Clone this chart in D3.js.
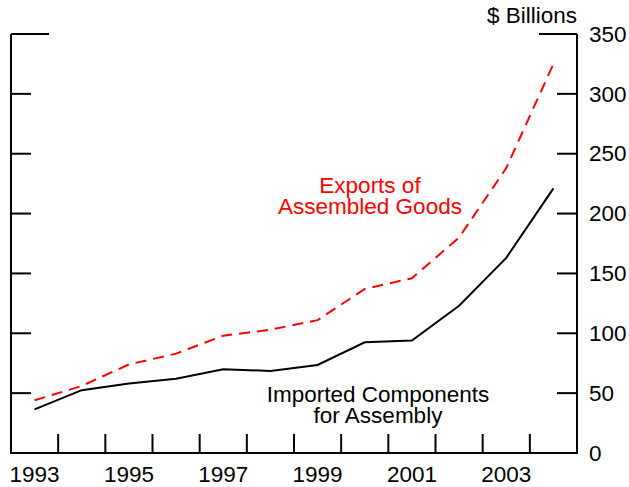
<!DOCTYPE html>
<html>
<head>
<meta charset="utf-8">
<script src="https://cdn.jsdelivr.net/npm/d3@7"></script>
<style>
  body { margin: 0; background: #fff; }
  text { font-family: "Liberation Sans", Arial, sans-serif; }
</style>
</head>
<body>
<div id="chart"></div>
<script>
// annual values, $ billions
var years = [1993, 1994, 1995, 1996, 1997, 1998, 1999, 2000, 2001, 2002, 2003, 2004];
var exportsAssembled = [44, 56, 74, 83, 98, 103, 111, 137, 146, 180, 238, 325];
var importedComponents = [36.5, 52.5, 58, 62, 70, 68.5, 73.5, 92.5, 94, 123, 163, 221];
var yTicks = [0, 50, 100, 150, 200, 250, 300, 350];
var yearLabels = [1993, 1995, 1997, 1999, 2001, 2003];
var yearTicks = [1994, 1995, 1996, 1997, 1998, 1999, 2000, 2001, 2002, 2003, 2004];

var width = 629, height = 487;
var margin = {top: 34, right: 52, bottom: 34, left: 11};
var w = width - margin.left - margin.right,
    h = height - margin.top - margin.bottom;
var fontSize = "22.5px";

// x runs over whole years, points sit mid-year
var x = d3.scaleLinear().domain([1993, 2005]).range([0, w]);
var y = d3.scaleLinear().domain([0, 350]).range([h, 0]);

var svg = d3.select("#chart").append("svg")
    .attr("width", width)
    .attr("height", height)
  .append("g")
    .attr("transform", "translate(" + margin.left + "," + margin.top + ")");

// frame: left, right, bottom
svg.append("path")
  .attr("d", "M0,0V" + h + "H" + w + "V0")
  .attr("fill", "none")
  .attr("stroke", "#000")
  .attr("stroke-width", 2);

// y ticks on both sides, the top pair longer
yTicks.forEach(function(v) {
  var len = v === 350 ? 38 : 20;
  svg.append("line").attr("x1", 0).attr("x2", len)
    .attr("y1", y(v)).attr("y2", y(v))
    .attr("stroke", "#000").attr("stroke-width", 2);
  svg.append("line").attr("x1", w - len).attr("x2", w)
    .attr("y1", y(v)).attr("y2", y(v))
    .attr("stroke", "#000").attr("stroke-width", 2);
});

// right axis labels
svg.append("g")
  .attr("transform", "translate(" + w + ",0)")
  .call(d3.axisRight(y).tickValues(yTicks).tickSize(0).tickPadding(12))
  .call(function(g) { g.select(".domain").remove(); })
  .selectAll("text")
    .style("font-size", fontSize)
    .style("font-family", "'Liberation Sans', Arial, sans-serif")
    .attr("fill", "#000");

// x ticks at year boundaries, pointing up
svg.selectAll(".xtick")
  .data(yearTicks)
  .enter().append("line")
    .attr("class", "xtick")
    .attr("x1", function(d) { return x(d); })
    .attr("x2", function(d) { return x(d); })
    .attr("y1", h).attr("y2", h - 19)
    .attr("stroke", "#000").attr("stroke-width", 2);

svg.selectAll(".xlabel")
  .data(yearLabels)
  .enter().append("text")
    .attr("class", "xlabel")
    .attr("x", function(d) { return x(d + 0.5); })
    .attr("y", h + 29)
    .attr("text-anchor", "middle")
    .style("font-size", fontSize)
    .text(function(d) { return d; });

svg.append("text")
  .attr("x", w)
  .attr("y", -11)
  .attr("text-anchor", "end")
  .style("font-size", fontSize)
  .text("$ Billions");

var line = d3.line()
  .x(function(d) { return x(d[0] + 0.5); })
  .y(function(d) { return y(d[1]); });

svg.append("path")
  .datum(d3.zip(years, importedComponents))
  .attr("fill", "none")
  .attr("stroke", "#000")
  .attr("stroke-width", 2)
  .attr("d", line);

svg.append("path")
  .datum(d3.zip(years, exportsAssembled))
  .attr("fill", "none")
  .attr("stroke", "#ff0000")
  .attr("stroke-width", 2)
  .attr("stroke-dasharray", "11,7")
  .attr("d", line);

// series labels
var red = svg.append("text")
  .attr("text-anchor", "middle")
  .attr("fill", "#ff0000")
  .style("font-size", fontSize);
red.append("tspan").attr("x", 370 - margin.left).attr("y", 193 - margin.top).text("Exports of");
red.append("tspan").attr("x", 370 - margin.left).attr("y", 214 - margin.top).text("Assembled Goods");

var blk = svg.append("text")
  .attr("text-anchor", "middle")
  .attr("fill", "#000")
  .style("font-size", fontSize);
blk.append("tspan").attr("x", 378 - margin.left).attr("y", 402 - margin.top).text("Imported Components");
blk.append("tspan").attr("x", 378 - margin.left).attr("y", 423 - margin.top).text("for Assembly");
</script>
</body>
</html>
